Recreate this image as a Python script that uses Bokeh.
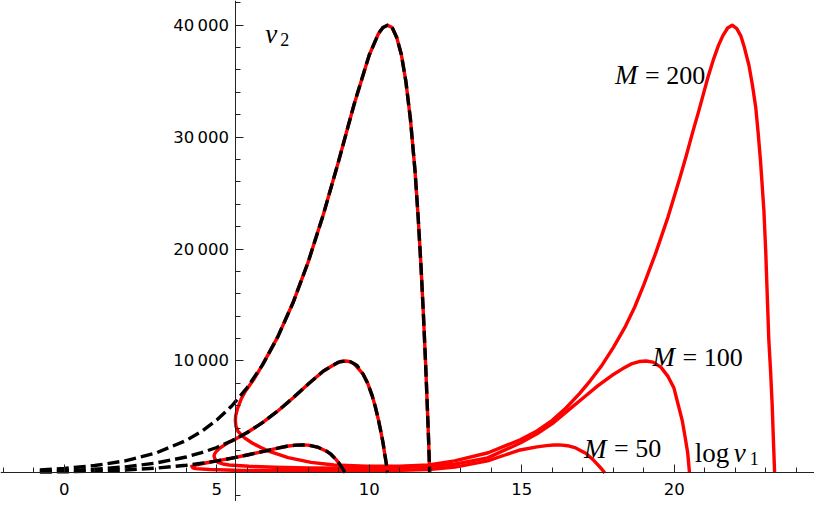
from bokeh.plotting import figure
from bokeh.models import Range1d, LinearAxis, FixedTicker
from bokeh.core.properties import value
from bokeh.embed import file_html
from bokeh.resources import INLINE

# ---------------- data ----------------
# x = log v1, y = v2
# black dashed curves
black200_x = [-0.8, 0, 1, 2, 3, 4, 4.5, 5, 5.5, 6, 6.5, 7, 7.5, 8, 8.5, 9, 9.5, 10, 10.3, 10.45, 10.6, 10.75, 10.9, 11.05, 11.2, 11.35, 11.5, 11.6, 11.7, 11.78, 11.85, 11.91, 11.95, 11.98]
black200_y = [270, 400, 660, 1080, 1770, 2900, 3700, 4720, 6000, 7630, 9650, 12150, 15200, 18860, 23130, 27900, 32900, 37340, 39240, 39800, 40000, 39800, 38900, 37400, 35000, 31600, 27000, 23000, 18300, 13900, 9600, 5500, 2600, 0]

black100_x = [-0.8, 0, 1, 2, 3, 4, 4.5, 5, 5.5, 6, 6.5, 7, 7.5, 8, 8.5, 8.8, 9, 9.21, 9.4, 9.6, 9.8, 9.95, 10.1, 10.2, 10.3, 10.38, 10.45, 10.5, 10.55, 10.6]
black100_y = [134, 200, 330, 540, 880, 1420, 1810, 2270, 2880, 3610, 4490, 5530, 6700, 7940, 9110, 9600, 9900, 10000, 9920, 9600, 8820, 8000, 6860, 5900, 4750, 3700, 2720, 1800, 990, 0]

black50_x = [-0.8, 0, 1, 2, 3, 4, 4.5, 5, 5.5, 6, 6.5, 7, 7.3, 7.6, 7.82, 8.0, 8.3, 8.6, 8.75, 8.9, 9.0, 9.1, 9.21]
black50_y = [67, 100, 160, 260, 430, 680, 860, 1070, 1320, 1600, 1910, 2210, 2380, 2480, 2500, 2480, 2310, 1940, 1650, 1230, 900, 500, 0]

# red solid curves (full loops)
red200_x = [11.98, 11.95, 11.91, 11.85, 11.78, 11.7, 11.6, 11.5, 11.35, 11.2, 11.05, 10.9, 10.75, 10.6, 10.45, 10.3, 10, 9.5, 9, 8.5, 8, 7.5, 7, 6.5, 6.2, 5.95, 5.8, 5.68, 5.62, 5.61,
            5.63, 5.7, 5.9, 6.16, 6.43, 6.7, 7.34, 8.09, 8.84, 9.9, 11.0, 11.95, 12.8, 13.9, 14.95, 15.5, 16.0, 16.45, 16.9, 17.25, 17.6, 18.0, 18.4, 18.7,
            19.0, 19.4, 19.8, 20.2, 20.4, 20.6, 20.8, 20.95, 21.1, 21.28, 21.45, 21.6, 21.75, 21.9, 22.05, 22.19, 22.3, 22.45, 22.56, 22.67, 22.75,
            22.83, 22.94, 23.0, 23.05, 23.1, 23.16, 23.21, 23.25, 23.29]
red200_y = [0, 2600, 5500, 9600, 13900, 18300, 23000, 27000, 31600, 35000, 37400, 38900, 39800, 40000, 39800, 39240, 37340, 32900, 27900, 23130, 18860, 15200, 12150, 9650, 8300, 7350, 6600, 5750, 5100, 4700,
            4150, 3700, 3150, 2670, 2290, 1950, 1370, 940, 710, 590, 590, 710, 1080, 1800, 2960, 3750, 4700, 5800, 7100, 8250, 9500, 11200, 13100, 14800,
            16800, 19700, 22900, 26500, 28400, 30400, 32300, 33800, 35300, 36900, 38200, 39100, 39750, 40000, 39700, 39000, 38000, 36400, 34700, 32700, 30400,
            27800, 23400, 19700, 15800, 11900, 9000, 6100, 3000, 0]

red100_x = [10.6, 10.55, 10.5, 10.45, 10.38, 10.3, 10.2, 10.1, 9.95, 9.8, 9.5, 9.35, 9.21, 9.05, 8.8, 8.5, 8, 7.5, 7, 6.5, 6, 5.6, 5.4, 5.25, 5.09, 4.98, 4.93, 4.91,
            4.95, 5.04, 5.2, 5.41, 6.05, 6.91, 7.98, 9.16, 10.77, 11.95, 12.8, 13.88, 14.95, 15.5, 16.0, 16.55, 17.1, 17.5, 17.95, 18.3, 18.59, 18.85, 19.08, 19.3,
            19.56, 19.8, 19.99, 20.1, 20.26, 20.35, 20.44, 20.5]
red100_y = [0, 990, 1800, 2720, 3700, 4750, 5900, 6860, 8000, 8820, 9760, 9950, 10000, 9950, 9600, 9110, 7940, 6700, 5530, 4490, 3610, 3000, 2750, 2480, 2200, 1900, 1700, 1515,
            1200, 935, 800, 710, 590, 500, 450, 430, 450, 560, 780, 1340, 2670, 3500, 4400, 5650, 6900, 7800, 8700, 9300, 9740, 9950, 10000, 9900,
            9450, 8600, 7580, 6400, 4700, 3300, 1800, 0]

red50_x = [9.21, 9.1, 9.0, 8.9, 8.75, 8.6, 8.3, 8.0, 7.82, 7.6, 7.3, 7.0, 6.5, 6.0, 5.5, 5.0, 4.76, 4.5, 4.31, 4.18,
           4.22, 4.3, 4.77, 5.84, 7.56, 9.16, 10.77, 11.95, 12.81, 13.88, 14.45, 14.95, 15.5, 15.81, 16.05, 16.24, 16.5, 16.77, 17.0, 17.1, 17.2, 17.35, 17.52, 17.62, 17.72]
red50_y = [0, 500, 900, 1230, 1650, 1940, 2310, 2480, 2500, 2480, 2380, 2210, 1910, 1600, 1320, 1070, 950, 820, 690, 590,
           450, 380, 300, 220, 190, 190, 220, 300, 520, 1080, 1600, 2050, 2330, 2440, 2490, 2500, 2430, 2230, 1900, 1750, 1515, 1150, 650, 350, 0]

x_major_ticks = [0, 5, 10, 15, 20]
x_minor_ticks = list(range(-2, 25))
y_major_ticks = [10000, 20000, 30000, 40000]
y_minor_ticks = [v for v in range(-2000, 42001, 2000) if v % 10000 != 0]
y_tick_labels = {10000: "10\u2009000", 20000: "20\u2009000", 30000: "30\u2009000", 40000: "40\u2009000"}
x_tick_labels = {0: "0", 5: "5", 10: "10", 15: "15", 20: "20"}

# ---------------- figure ----------------
p = figure(width=814, height=501, x_range=Range1d(-2.09, 24.598), y_range=Range1d(-2554, 42208),
           output_backend="svg", toolbar_location=None, x_axis_type=None, y_axis_type=None,
           min_border=0, outline_line_color=None)
p.background_fill_color = "white"

xaxis = LinearAxis(fixed_location=0, ticker=FixedTicker(ticks=x_major_ticks, minor_ticks=x_minor_ticks),
                   major_label_overrides=x_tick_labels)
yaxis = LinearAxis(fixed_location=5.63, ticker=FixedTicker(ticks=y_major_ticks, minor_ticks=y_minor_ticks),
                   major_label_overrides=y_tick_labels)
for ax in (xaxis, yaxis):
    ax.axis_line_color = "#222222"
    ax.axis_line_width = 1
    ax.major_tick_line_color = "#222222"
    ax.minor_tick_line_color = "#222222"
    ax.major_tick_in = 8
    ax.major_tick_out = 0
    ax.minor_tick_in = 5
    ax.minor_tick_out = 0
    ax.major_label_text_font = "DejaVu Sans"
    ax.major_label_text_font_size = "16.5px"
    ax.major_label_text_color = "black"
xaxis.major_label_standoff = 10
yaxis.major_label_standoff = 7
p.add_layout(xaxis, "below")
p.add_layout(yaxis, "left")

red = "#ff0000"
for xs, ys in ((red200_x, red200_y), (red100_x, red100_y), (red50_x, red50_y)):
    p.line(xs, ys, line_color=red, line_width=3.4, line_join="round")
for xs, ys in ((black200_x, black200_y), (black100_x, black100_y), (black50_x, black50_y)):
    p.line(xs, ys, line_color="black", line_width=3.4, line_dash="12 5", line_cap="butt", line_join="round")

serif = value("Liberation Serif")
# labels M = ...
lab_x = [18.06, 19.29, 17.04]
lab_y = [35540, 10320, 2147]
lab_t = ["= 200", "= 100", "= 50"]
p.text(x=lab_x, y=lab_y, text=["M", "M", "M"], text_font=serif, text_font_style="italic",
       text_font_size="27px", text_baseline="alphabetic", text_align="left", text_color="black")
p.text(x=lab_x, y=lab_y, text=lab_t, text_font=serif, text_font_size="26px",
       text_baseline="alphabetic", text_align="left", text_color="black", x_offset=30)

# axis labels
p.text(x=[6.59], y=[39178], text=["v"], text_font=serif, text_font_style="italic", text_font_size="27px",
       text_baseline="alphabetic", text_align="left", text_color="black")
p.text(x=[6.59], y=[39178], text=["2"], text_font=serif, text_font_size="18px",
       text_baseline="alphabetic", text_align="left", text_color="black", x_offset=15, y_offset=5)
p.text(x=[20.675], y=[1775], text=["log"], text_font=serif, text_font_size="27px",
       text_baseline="alphabetic", text_align="left", text_color="black")
p.text(x=[20.675], y=[1775], text=["v"], text_font=serif, text_font_style="italic", text_font_size="27px",
       text_baseline="alphabetic", text_align="left", text_color="black", x_offset=39)
p.text(x=[20.675], y=[1775], text=["1"], text_font=serif, text_font_size="18px",
       text_baseline="alphabetic", text_align="left", text_color="black", x_offset=55, y_offset=5)

open("out.html", "w").write(file_html(p, INLINE))
